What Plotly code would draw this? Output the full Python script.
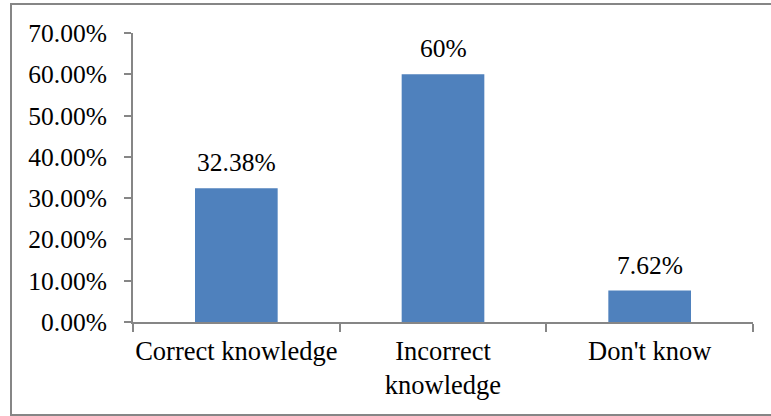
import plotly.graph_objects as go

# Knowledge categories and their shares (percent)
categories = ["Correct knowledge", "Incorrect<br>knowledge", "Don't know"]
values = [32.38, 60, 7.62]
value_labels = ["32.38%", "60%", "7.62%"]
y_ticks = [0, 10, 20, 30, 40, 50, 60, 70]
y_tick_text = ["0.00%", "10.00%", "20.00%", "30.00%", "40.00%", "50.00%", "60.00%", "70.00%"]

FONT = "Liberation Serif, Times New Roman, serif"
AXIS_GREY = "#868686"

fig = go.Figure()
fig.add_trace(go.Bar(
    x=categories,
    y=values,
    marker=dict(color="#4F81BD", line=dict(width=0)),
    width=0.4,
    hoverinfo="skip",
))

# Value labels above each bar
for cat, val, lab in zip(categories, values, value_labels):
    fig.add_annotation(
        x=cat, y=val, text=lab, showarrow=False,
        yanchor="bottom", yshift=9,
        font=dict(family=FONT, size=25.5, color="#000000"),
    )

W, H = 771, 416
L, R, T, B = 133, 18, 33, 94
pw, ph = W - L - R, H - T - B

# Chart frame around the whole figure
fig.add_shape(
    type="rect", xref="paper", yref="paper",
    x0=(11 - L) / pw, x1=(773 - L) / pw,
    y0=-(415 - (H - B)) / ph, y1=((H - B) - 4) / ph,
    line=dict(color=AXIS_GREY, width=2), fillcolor="rgba(0,0,0,0)",
    layer="above",
)

fig.update_layout(
    width=W, height=H,
    margin=dict(l=L, r=R, t=T, b=B, pad=0),
    paper_bgcolor="white", plot_bgcolor="white",
    showlegend=False,
    font=dict(family=FONT, size=25.5, color="#000000"),
    xaxis=dict(
        showline=True, linecolor=AXIS_GREY, linewidth=2,
        ticks="outside", ticklen=8, tickcolor=AXIS_GREY, tickwidth=2,
        tickson="boundaries", ticklabelstandoff=4, tickangle=0,
        automargin=False, showgrid=False, zeroline=False,
        tickfont=dict(family=FONT, size=26.5, color="#000000"),
        range=[-0.5, 2.5],
    ),
    yaxis=dict(
        range=[0, 70], tickvals=y_ticks, ticktext=y_tick_text,
        showline=True, linecolor=AXIS_GREY, linewidth=2,
        ticks="outside", ticklen=7, tickcolor=AXIS_GREY, tickwidth=2,
        ticklabelstandoff=12, automargin=False,
        showgrid=False, zeroline=False,
        tickfont=dict(family=FONT, size=25.5, color="#000000"),
    ),
)

fig.write_html("out.html")
